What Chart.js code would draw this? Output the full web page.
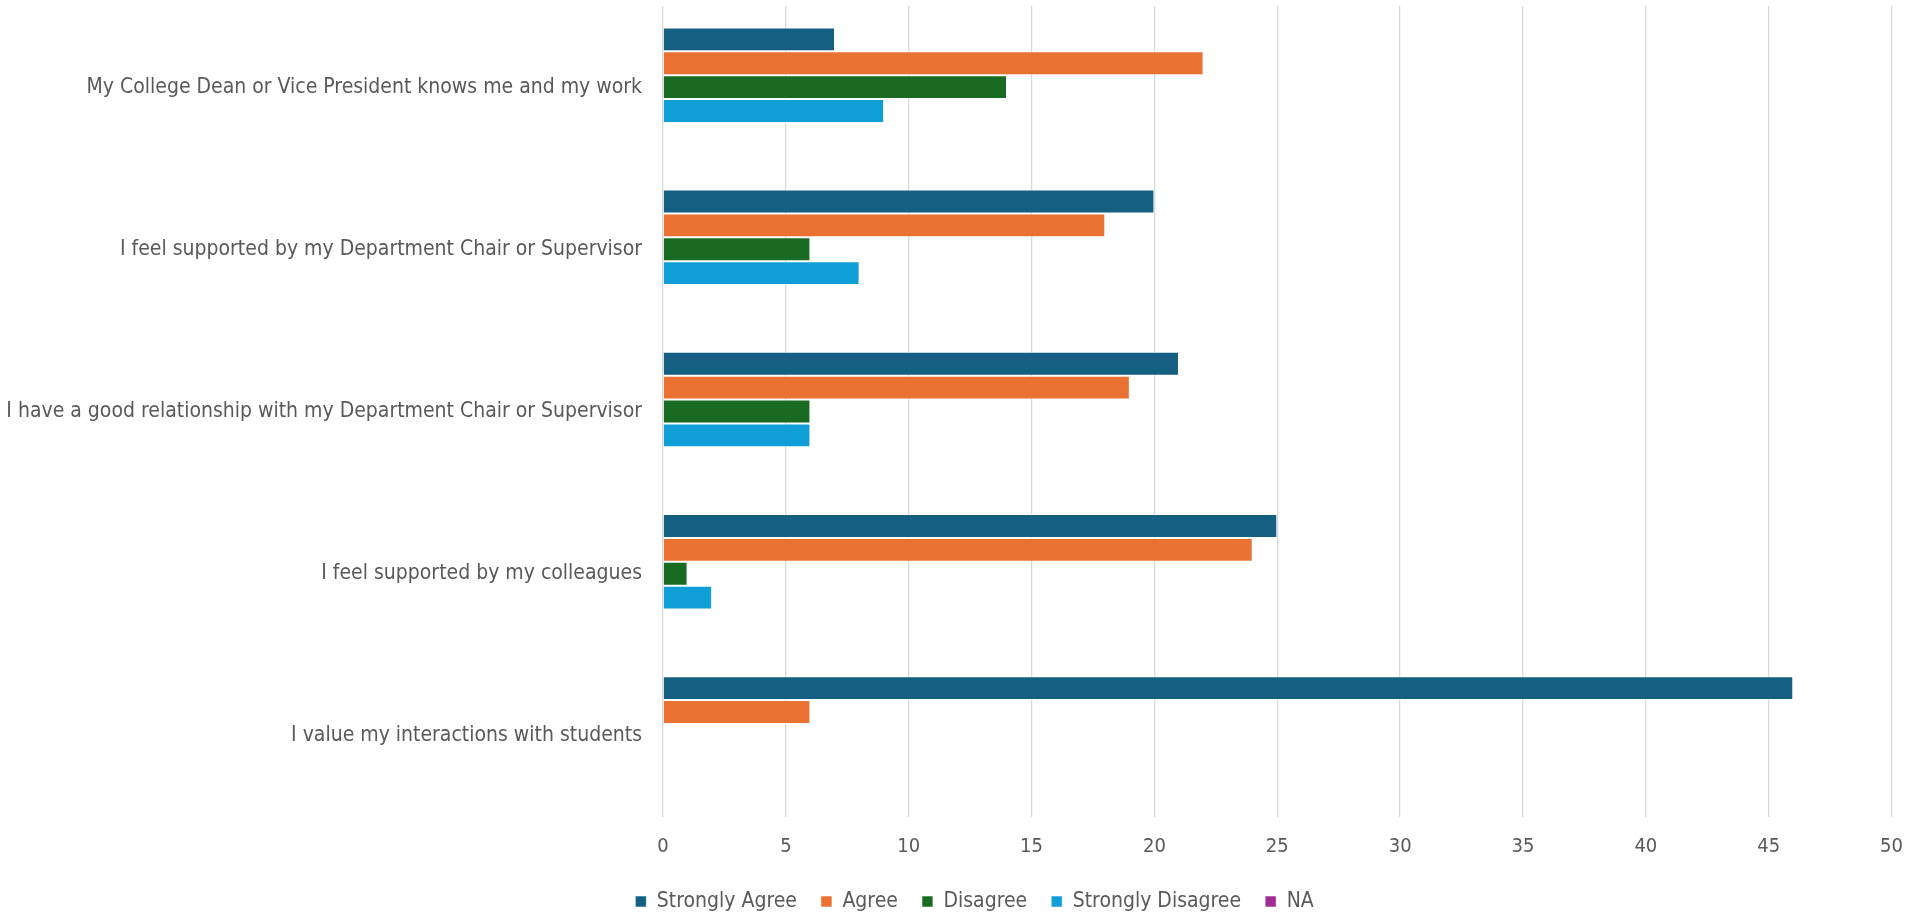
<!DOCTYPE html>
<html>
<head>
<meta charset="utf-8">
<script src="https://cdn.jsdelivr.net/npm/chart.js@4.4.1/dist/chart.umd.min.js"></script>
<style>
  html, body { margin: 0; padding: 0; background: #ffffff; }
  #wrap { width: 1921px; height: 915px; position: relative; }
</style>
</head>
<body>
<div id="wrap"><canvas id="chart"></canvas></div>
<script>
// Survey statements (top to bottom)
const categories = [
  "My College Dean or Vice President knows me and my work",
  "I feel supported by my Department Chair or Supervisor",
  "I have a good relationship with my Department Chair or Supervisor",
  "I feel supported by my colleagues",
  "I value my interactions with students"
];

// Response counts per statement
const stronglyAgree    = [7, 20, 21, 25, 46];
const agree            = [22, 18, 19, 24, 6];
const disagree         = [14, 6, 6, 1, 0];
const stronglyDisagree = [9, 8, 6, 2, 0];
const notApplicable    = [0, 0, 0, 0, 0];

const seriesNames  = ["Strongly Agree", "Agree", "Disagree", "Strongly Disagree", "NA"];
const seriesColors = ["#156082", "#E97132", "#196B24", "#0F9ED5", "#A02B93"];
const seriesValues = [stronglyAgree, agree, disagree, stronglyDisagree, notApplicable];

const xTicks = [0, 5, 10, 15, 20, 25, 30, 35, 40, 45, 50];

const FONT = '"Liberation Sans Narrow", "Arial Narrow", "DejaVu Sans Condensed", sans-serif';
const TEXT = '#595959';

const PAD_LEFT = 48;     // shifts the legend's centring box to the right
const PLOT_LEFT = 663;   // x position where the value axis starts

const datasets = seriesNames.map((name, i) => ({
  label: name,
  data: seriesValues[i],
  backgroundColor: seriesColors[i],
  borderColor: 'rgba(255,255,255,0.55)',
  borderWidth: 1,
  categoryPercentage: 0.736,
  barPercentage: 1.0
}));

new Chart(document.getElementById('chart'), {
  type: 'bar',
  data: { labels: categories, datasets },
  options: {
    indexAxis: 'y',
    responsive: true,
    maintainAspectRatio: false,
    animation: false,
    layout: { padding: { top: 6, right: 20, bottom: -7, left: PAD_LEFT } },
    scales: {
      x: {
        min: 0,
        max: 50,
        afterBuildTicks: s => { s.ticks = xTicks.map(v => ({ value: v })); },
        afterFit: s => { s.height = 50; },
        grid: { color: '#D9D9D9', lineWidth: 1.3, drawTicks: false },
        border: { display: false },
        ticks: {
          color: TEXT,
          padding: 18,
          font: { family: FONT, size: 20 }
        }
      },
      y: {
        // fixed axis width so the plot starts at the same x; long labels may run into the left margin
        afterFit: s => {
          s.width = PLOT_LEFT - PAD_LEFT;
          s.paddingTop = 0;
          s.paddingBottom = 0;
          s._computeLabelArea = () => undefined;
        },
        grid: { display: false, drawTicks: false },
        border: { display: false },
        ticks: {
          color: TEXT,
          padding: 21,
          font: { family: FONT, size: 21 }
        }
      }
    },
    plugins: {
      legend: {
        position: 'bottom',
        labels: {
          color: TEXT,
          boxWidth: 11,
          boxHeight: 11,
          padding: 24,
          font: { family: FONT, size: 21 }
        }
      },
      tooltip: { enabled: false }
    }
  }
});
</script>
</body>
</html>
